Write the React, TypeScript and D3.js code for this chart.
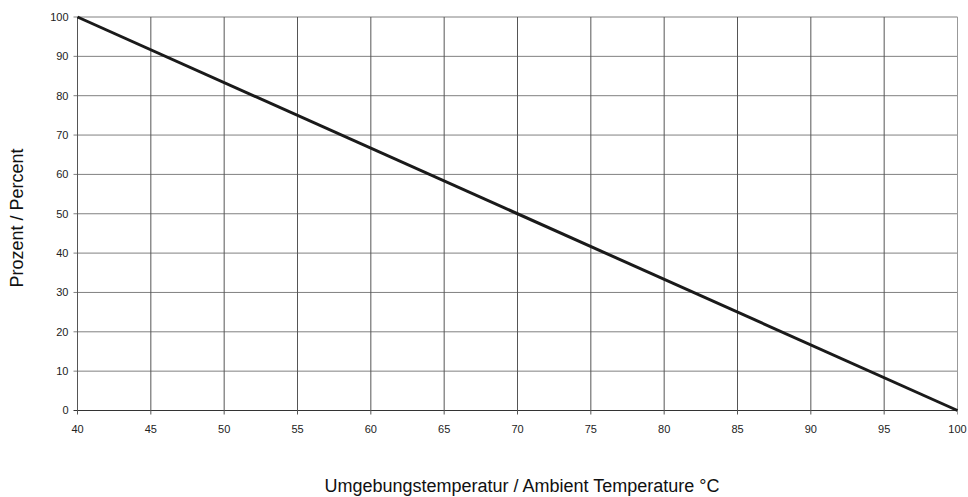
import * as d3 from "d3";

const temps = [40, 100];
const percent = [100, 0];
const xTicks = [40, 45, 50, 55, 60, 65, 70, 75, 80, 85, 90, 95, 100];
const yTicks = [0, 10, 20, 30, 40, 50, 60, 70, 80, 90, 100];

const width = 968;
const height = 497;
const left = 77.5;
const right = 957.5;
const top = 17;
const bottom = 410.5;

export default function App() {
  const x = d3.scaleLinear().domain([40, 100]).range([left, right]);
  const y = d3.scaleLinear().domain([0, 100]).range([bottom, top]);
  const line = d3
    .line<number>()
    .x((_, i) => x(temps[i]))
    .y((d) => y(d));

  return (
    <svg
      width={width}
      height={height}
      style={{ position: "absolute", left: 0, top: 0, fontFamily: "Liberation Sans, Arial, sans-serif" }}
    >
      <rect width={width} height={height} fill="white" />
      {/* horizontal grid */}
      {yTicks.map((t) => (
        <g key={"y" + t}>
          <line x1={left - 4} x2={right} y1={y(t)} y2={y(t)} stroke={t === 0 ? "#333" : "#808080"} strokeWidth={1} />
          <text x={left - 9} y={y(t)} dy="0.35em" textAnchor="end" fontSize={11} fill="#222">
            {t}
          </text>
        </g>
      ))}
      {/* vertical grid */}
      {xTicks.map((t) => (
        <g key={"x" + t}>
          <line
            x1={x(t)}
            x2={x(t)}
            y1={top}
            y2={bottom + 4}
            stroke={t === 100 ? "#999" : "#555"}
            strokeWidth={1}
          />
          <text x={x(t)} y={bottom + 22} textAnchor="middle" fontSize={11} fill="#222">
            {t}
          </text>
        </g>
      ))}
      <path d={line(percent) || undefined} fill="none" stroke="#1a1a1a" strokeWidth={3} />
      <text
        transform={`translate(23,218) rotate(-90)`}
        textAnchor="middle"
        fontSize={18}
        fill="#111"
      >
        Prozent / Percent
      </text>
      <text x={522} y={492} textAnchor="middle" fontSize={18} fill="#111">
        Umgebungstemperatur / Ambient Temperature °C
      </text>
    </svg>
  );
}
